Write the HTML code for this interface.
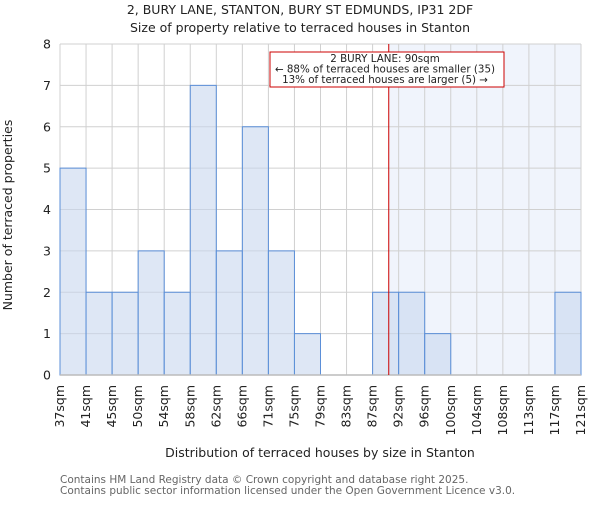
<!DOCTYPE html>
<html><head><meta charset="utf-8"><style>
body{margin:0;background:#fff;}
svg text{font-family:"DejaVu Sans","Liberation Sans",sans-serif;fill:#222;}
</style></head><body>
<svg id="chart" width="600" height="500" xmlns="http://www.w3.org/2000/svg">
<text x="300" y="14" text-anchor="middle" font-size="12.5">2, BURY LANE, STANTON, BURY ST EDMUNDS, IP31 2DF</text>
<text x="300" y="32" text-anchor="middle" font-size="12.5">Size of property relative to terraced houses in Stanton</text>
<g id="plot"></g>
<text x="12" y="215" text-anchor="middle" font-size="12.5" transform="rotate(-90 12 215)">Number of terraced properties</text>
<text x="320" y="457" text-anchor="middle" font-size="12.5">Distribution of terraced houses by size in Stanton</text>
<text x="60" y="483" font-size="10.5" style="fill:#666">Contains HM Land Registry data © Crown copyright and database right 2025.</text>
<text x="60" y="494" font-size="10.5" style="fill:#666">Contains public sector information licensed under the Open Government Licence v3.0.</text>
</svg>
<script>
const categories=["37sqm","41sqm","45sqm","50sqm","54sqm","58sqm","62sqm","66sqm","71sqm","75sqm","79sqm","83sqm","87sqm","92sqm","96sqm","100sqm","104sqm","108sqm","113sqm","117sqm","121sqm"];
const counts=[5,2,2,3,2,7,3,6,3,1,0,0,2,2,1,0,0,0,0,2];
const yTicks=[0,1,2,3,4,5,6,7,8];
const markerBin=12.62;
const annotationLines=["2 BURY LANE: 90sqm","← 88% of terraced houses are smaller (35)","13% of terraced houses are larger (5) →"];
const NS="http://www.w3.org/2000/svg";
const L=60,R=581,T=44,B=375,yMax=8;
const bw=(R-L)/counts.length;
const xs=i=>L+i*bw;
const ys=v=>B-(v/yMax)*(B-T);
const g=document.getElementById('plot');
function mk(t,a){const e=document.createElementNS(NS,t);for(const k in a)e.setAttribute(k,a[k]);g.appendChild(e);return e;}
const mx=xs(markerBin);
let e=mk('rect',{x:mx,y:T,width:R-mx,height:B-T,fill:'#f0f4fc'});


yTicks.forEach(v=>{
 const l=mk('line',{x1:L,x2:R,y1:ys(v),y2:ys(v),stroke:'#d0d0d0','stroke-width':1});
 
 
 const t=mk('text',{x:L-9,y:ys(v)+4.5,'text-anchor':'end','font-size':12.5});
 t.textContent=v;
 
 
});
categories.forEach((c,i)=>{
 const l=mk('line',{x1:xs(i),x2:xs(i),y1:T,y2:B,stroke:'#d0d0d0','stroke-width':1});
 
 
 const x=xs(i)+4,y=B+10;
 const t=mk('text',{x:x,y:y,'text-anchor':'end','font-size':12.5,transform:`rotate(-90 ${x} ${y})`});
 t.textContent=c;
 
 
});
counts.forEach((v,i)=>{
 if(v<=0)return;
 const r=mk('rect',{x:xs(i),y:ys(v),width:bw,height:B-ys(v),fill:'rgba(200,215,238,0.6)',stroke:'#5b8fd8','stroke-width':1});
 
 
});
e=mk('line',{x1:L,x2:R,y1:B,y2:B,stroke:'#bbb','stroke-width':1.5});


e=mk('line',{x1:mx,x2:mx,y1:T,y2:B,stroke:'#cc0000','stroke-width':1});


e=mk('rect',{x:270,y:52,width:234,height:35,fill:'#fff',stroke:'#cc0000','stroke-width':1});


annotationLines.forEach((s,i)=>{
 const t=mk('text',{x:385,y:62+i*10.5,'text-anchor':'middle','font-size':10.3});
 t.textContent=s;
 
 
});
</script>
</body></html>
